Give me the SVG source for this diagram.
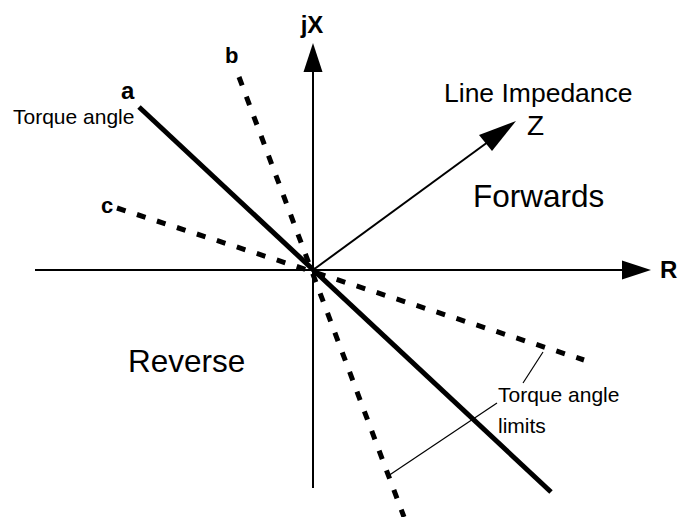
<svg xmlns="http://www.w3.org/2000/svg" width="679" height="517" viewBox="0 0 679 517">
<style>
.axis{stroke:#000;stroke-width:2;fill:none}
.thick{stroke:#000;stroke-width:5;fill:none}
.dash{stroke:#000;stroke-width:5;fill:none;stroke-dasharray:9 12}
.thin{stroke:#000;stroke-width:1.2;fill:none}
.head{fill:#000}
text{font-family:"Liberation Sans",Arial,sans-serif;fill:#000}
.b{font-weight:bold}
</style>
<rect width="679" height="517" fill="#fff"/>
<g id="connectors">
<line class="axis" x1="35" y1="270" x2="624" y2="270"/>
<polygon class="head" points="651,270 622,260.5 622,279.5"/>
<line class="axis" x1="313" y1="488" x2="313" y2="70"/>
<polygon class="head" points="313,43 303.5,72 322.5,72"/>
<line class="axis" x1="313" y1="270" x2="492" y2="139"/>
<polygon class="head" points="516,121 479,135 492,151"/>
<line class="thick" x1="139" y1="107" x2="551" y2="492"/>
<line class="dash" x1="239" y1="77" x2="404" y2="517"/>
<line class="dash" x1="117" y1="208" x2="584" y2="360"/>
<line class="thin" x1="543" y1="352" x2="523" y2="383"/>
<line class="thin" x1="497" y1="403" x2="388" y2="476"/>
</g>
<g id="labels">
<text class="b" x="312" y="33" font-size="24" text-anchor="middle">jX</text>
<text class="b" x="660" y="278" font-size="24">R</text>
<text class="b" x="121" y="99" font-size="24">a</text>
<text class="b" x="225" y="63" font-size="22">b</text>
<text class="b" x="101" y="213" font-size="22">c</text>
<text x="13" y="124" font-size="21">Torque angle</text>
<text x="444" y="102" font-size="26.5">Line Impedance</text>
<text x="527" y="135" font-size="28">Z</text>
<text x="473" y="207" font-size="31.5">Forwards</text>
<text x="128" y="372" font-size="31.5">Reverse</text>
<text x="498" y="402" font-size="21">Torque angle</text>
<text x="498" y="433" font-size="21">limits</text>
</g>
</svg>
